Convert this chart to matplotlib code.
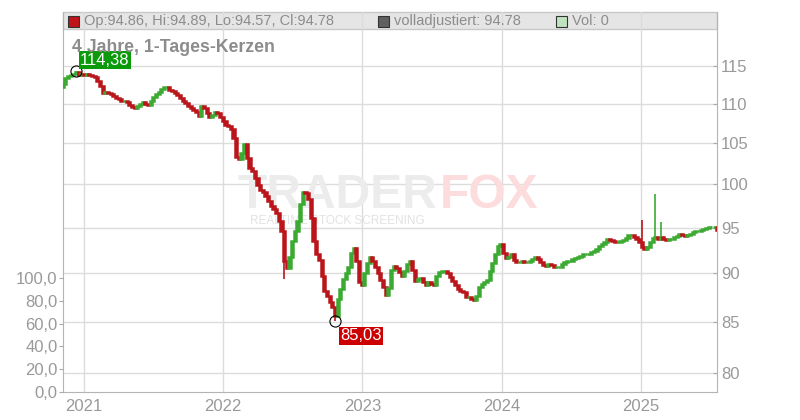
import numpy as np
import pandas as pd
import matplotlib
matplotlib.use("Agg")
import matplotlib.pyplot as plt
import matplotlib.dates as mdates
import matplotlib.ticker as mticker
from matplotlib.patches import Rectangle

plt.rcParams['font.family'] = ['Liberation Sans', 'DejaVu Sans']

# weekly closes (Nov 2020 - Jul 2025)
closes = [
    112.58, 113.39, 113.70, 113.79, 113.92, 114.20, 113.79, 113.92, 113.79, 113.92,
    113.79, 113.65, 113.50, 113.00, 112.31, 111.39, 111.52, 111.39, 111.26, 111.00,
    110.74, 110.60, 110.35, 110.35, 110.22, 109.82, 109.56, 109.43, 109.69, 109.95,
    110.22, 109.95, 109.82, 110.35, 110.87, 111.26, 111.52, 111.92, 112.18, 112.18,
    111.79, 111.65, 111.39, 111.13, 110.74, 110.35, 110.09, 109.69, 109.43, 109.18,
    108.92, 108.41, 109.69, 109.43, 108.79, 108.28, 108.54, 108.92, 108.79, 108.28,
    107.77, 107.27, 107.14, 106.76, 105.64, 103.31, 103.06, 103.79, 104.89, 103.18,
    101.98, 101.62, 100.79, 99.96, 99.38, 99.14, 98.68, 98.10, 97.41, 97.07,
    96.61, 95.71, 94.59, 91.32, 90.58, 91.75, 93.49, 94.59, 95.71, 97.64,
    99.14, 99.03, 98.33, 96.04, 93.49, 92.07, 91.43, 89.74, 88.17, 87.66,
    87.04, 86.54, 85.62, 87.35, 88.38, 89.42, 90.05, 90.69, 92.18, 92.72,
    91.32, 89.11, 88.80, 90.05, 91.11, 91.75, 91.32, 90.69, 90.05, 89.32,
    88.59, 87.76, 88.49, 90.37, 90.79, 90.58, 90.16, 89.74, 90.26, 91.00,
    91.32, 90.37, 89.21, 89.42, 89.53, 89.11, 88.80, 89.11, 88.90, 88.80,
    89.74, 90.16, 90.26, 90.26, 90.05, 89.63, 89.21, 88.80, 88.38, 88.17,
    88.07, 87.56, 87.56, 87.35, 87.25, 87.66, 88.59, 88.90, 89.11, 89.32,
    90.26, 91.11, 92.07, 92.94, 93.16, 92.18, 91.65, 91.75, 92.07, 91.43,
    91.22, 91.22, 91.32, 91.22, 91.22, 91.32, 91.54, 91.75, 91.54, 91.22,
    90.90, 90.79, 91.00, 90.90, 90.69, 90.69, 90.69, 91.00, 91.22, 91.32,
    91.32, 91.54, 91.65, 91.75, 91.86, 92.07, 92.07, 92.07, 92.29, 92.40,
    92.61, 92.94, 93.16, 93.38, 93.71, 93.60, 93.49, 93.38, 93.38, 93.49,
    93.60, 93.82, 94.15, 94.15, 93.93, 93.71, 93.38, 92.83, 92.61, 92.83,
    93.38, 93.82, 93.93, 93.71, 93.93, 93.71, 93.60, 93.71, 93.71, 93.93,
    94.04, 94.26, 94.15, 94.04, 94.15, 94.26, 94.48, 94.59, 94.59, 94.70,
    94.81, 94.92, 95.04, 95.04, 95.04, 94.78,
]
first_open = 112.20
start_date = '2020-11-06'

# wicks that stick out (week index -> value)
spike_highs = {5: 114.38, 217: 95.90, 222: 98.80, 224: 95.60}
spike_lows = {83: 89.40, 102: 85.03}

max_week, max_val = 5, 114.38
min_week, min_val = 102, 85.03

header_ohlc = "Op:94.86, Hi:94.89, Lo:94.57, Cl:94.78"
header_adj = "volladjustiert: 94.78"
header_vol = "Vol: 0"
title = "4 Jahre, 1-Tages-Kerzen"

price_ticks = [80, 85, 90, 95, 100, 105, 110, 115]
vol_ticks = [0, 20, 40, 60, 80, 100]
years = [2021, 2022, 2023, 2024, 2025]

RED = '#b9151a'
GREEN = '#3caa32'
GRAY_TXT = '#999999'

W, H = 800, 420
L, R, T, B = 63, 717, 12, 392


def fpos(x, y):
    return x / W, 1 - y / H


fig = plt.figure(figsize=(W / 100, H / 100), dpi=100)
ax = fig.add_axes([L / W, 1 - B / H, (R - L) / W, (B - T) / H])

dates = pd.date_range(start_date, periods=len(closes), freq='7D')
xs = mdates.date2num(dates)
c = np.array(closes)
o = np.array([first_open] + closes[:-1])
cols = [GREEN if cc >= oo else RED for oo, cc in zip(o, c)]

# candles: body from previous close to close, heavy edge so flat weeks stay visible
ax.bar(xs, np.abs(c - o), bottom=np.minimum(o, c), width=5.5, color=cols,
       edgecolor=cols, linewidth=1.8, zorder=3)
for i, v in spike_highs.items():
    ax.vlines(xs[i], max(o[i], c[i]), v, color=cols[i], lw=1.2, zorder=3)
for i, v in spike_lows.items():
    ax.vlines(xs[i], v, min(o[i], c[i]), color=cols[i], lw=1.2, zorder=3)

# volume axis (left)
axv = ax.twinx()
axv.yaxis.tick_left()
axv.set_ylim(0, 333)
axv.set_yticks(vol_ticks)
axv.set_yticklabels([f"{v},0" for v in vol_ticks])
axv.tick_params(axis='y', direction='out', length=3, color='#aaaaaa',
                labelcolor=GRAY_TXT, labelsize=12, pad=1)
for s in axv.spines.values():
    s.set_visible(False)

# price axis (right, log)
ax.set_yscale('log')
ax.set_ylim(78.22, 122.6)
ax.set_xlim(mdates.date2num(pd.Timestamp('2020-11-07')),
            mdates.date2num(pd.Timestamp('2025-07-19')))
ax.yaxis.tick_right()
ax.set_yticks(price_ticks)
ax.yaxis.set_major_formatter(mticker.FuncFormatter(lambda v, p: f"{v:.0f}"))
ax.yaxis.set_minor_locator(mticker.NullLocator())
ax.set_xticks(mdates.date2num([pd.Timestamp(f'{y}-01-01') for y in years]))
ax.set_xticklabels([str(y) for y in years])
ax.tick_params(axis='y', direction='in', length=3, color='#aaaaaa',
               labelcolor=GRAY_TXT, labelsize=12, pad=3)
ax.tick_params(axis='x', length=0, labelcolor=GRAY_TXT, labelsize=12, pad=5)
ax.set_axisbelow(True)
ax.grid(True, color='#dcdcdc', lw=1)
for s in ['left', 'right', 'bottom']:
    ax.spines[s].set_color('#b4b4b4')
ax.spines['top'].set_visible(False)

# header band
band_y0 = (B - 29) / (B - T)
ax.add_patch(Rectangle((0, band_y0), 1, 1 - band_y0, transform=ax.transAxes,
                       fc='#e5e5e5', ec='#c8c8c8', lw=1, zorder=0.4, clip_on=False))
for x0, fc, label in [(68, '#c0141a', header_ohlc), (378, '#606060', header_adj),
                      (556, '#bfe3bf', header_vol)]:
    fig.patches.append(Rectangle(fpos(x0, 27), 11 / W, 11 / H, transform=fig.transFigure,
                                 fc=fc, ec='#333333', lw=0.8))
    fig.text(*fpos(x0 + 16, 21), label, fontsize=10.5, color='#8c8c8c', va='center')

fig.text(*fpos(72, 48), title, fontsize=12.7, fontweight='bold', color='#8c8c8c',
         va='center')

# watermark
ax.text(*fpos(238, 208), 'TRADER', transform=fig.transFigure, fontsize=34.5,
        fontweight='bold', color='#ececec', zorder=1)
ax.text(*fpos(440, 208), 'FOX', transform=fig.transFigure, fontsize=34.5,
        fontweight='bold', color='#fcdcdc', zorder=1)
ax.text(*fpos(250, 224), 'REALTIME STOCK SCREENING', transform=fig.transFigure,
        fontsize=8.5, color='#e2e2e2', zorder=1)

# max / min markers
for wk, val, txt, fc, off, va in [(max_week, max_val, '114,38', '#0a9a0a', (4, 3), 'bottom'),
                                  (min_week, min_val, '85,03', '#cc0000', (5, -7), 'top')]:
    ax.plot(xs[wk], val, marker='o', ms=8, mfc='none', mec='black', mew=0.8, zorder=5)
    ax.annotate(txt, xy=(xs[wk], val), xytext=off,
                textcoords='offset pixels', ha='left', va=va, fontsize=12,
                color='white', zorder=6,
                bbox=dict(boxstyle='square,pad=0.08', fc=fc, ec='none'))

fig.savefig('out.png', dpi=100)
